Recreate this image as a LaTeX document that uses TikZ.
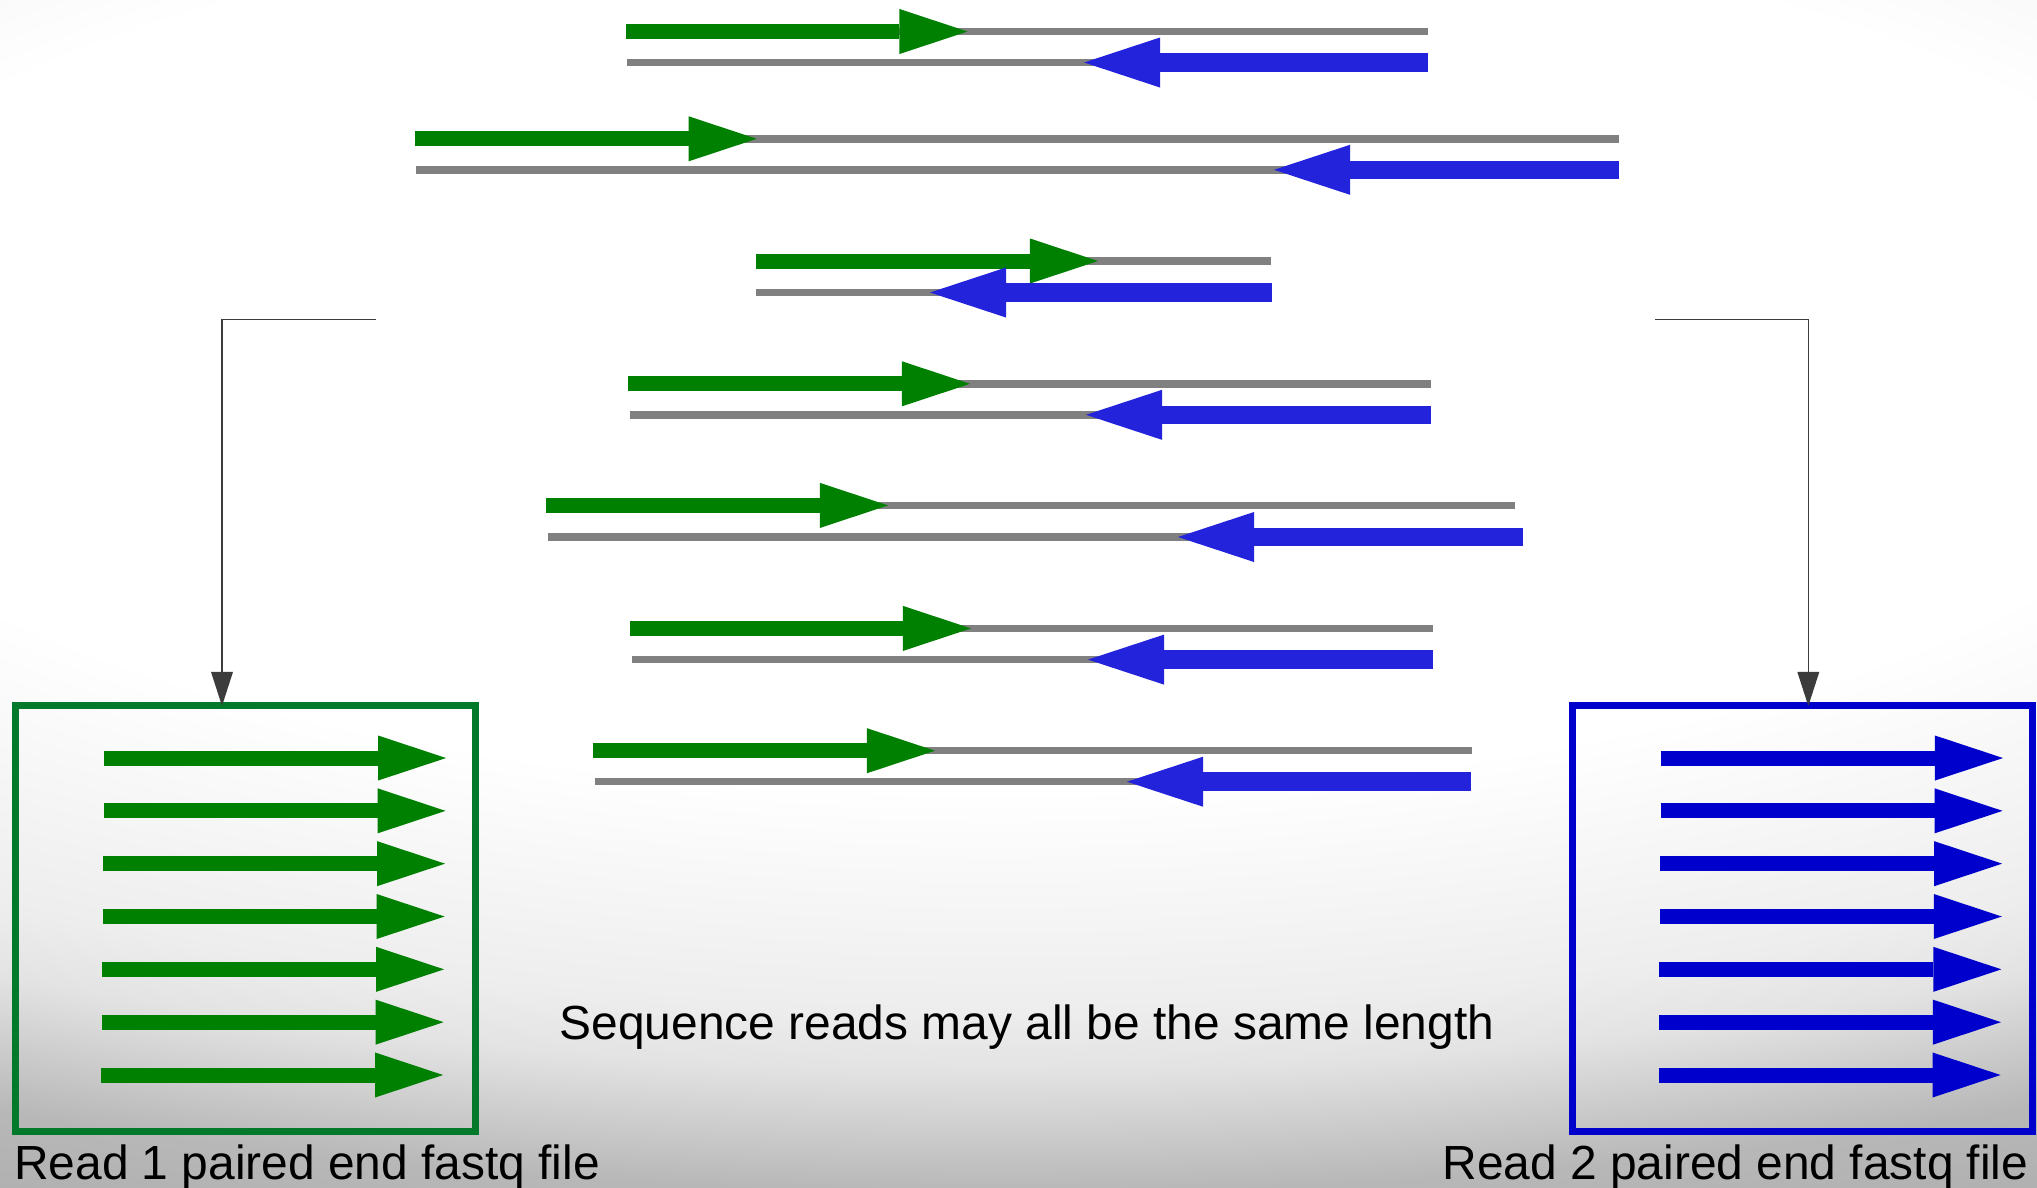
\documentclass[tikz,border=0pt]{standalone}
\usepackage{fontspec}
\setmainfont{Liberation Sans}
\usetikzlibrary{arrows.meta,positioning,calc}

\definecolor{readgreen}{HTML}{008000}
\definecolor{readblue}{HTML}{2323DC}
\definecolor{boxgreen}{HTML}{037A2B}
\definecolor{boxblue}{HTML}{0000CC}
\definecolor{strandgray}{HTML}{808080}
\definecolor{linkgray}{HTML}{3C3C3C}
\definecolor{glowA}{gray}{0.93}
\definecolor{glowB}{gray}{0.89}
\definecolor{glowC}{gray}{0.72}
\definecolor{glowD}{gray}{0.66}

\pgfdeclareradialshading{backglow}{\pgfpointorigin}{color(0bp)=(white); color(11bp)=(white); color(16.5bp)=(glowA); color(18bp)=(glowB); color(21bp)=(glowC); color(25bp)=(glowD); color(50bp)=(glowD)}

\tikzset{
  strand/.style={draw=strandgray, line width=0.075cm},
  fwdread/.style={draw=readgreen, line width=0.15cm, -{Triangle[length=0.68cm, width=0.45cm, line width=0pt 0 0]}},
  revread/.style={draw=readblue, line width=0.185cm, -{Triangle[length=0.76cm, width=0.50cm, line width=0pt 0 0]}},
  materead/.style={draw=boxblue, line width=0.15cm, -{Triangle[length=0.68cm, width=0.45cm, line width=0pt 0 0]}},
  fastqbox/.style={rectangle, line width=0.07cm, outer sep=0pt, minimum width=4.6cm, minimum height=4.255cm},
  feed/.style={draw=linkgray, line width=0.015cm, -{Triangle[length=0.34cm, width=0.22cm, line width=0pt 0 0]}},
  filelabel/.style={font=\fontsize{13.62pt}{16pt}\selectfont, inner sep=0pt},
}

\begin{document}
\begin{tikzpicture}[x=0.01cm, y=-0.01cm]

% page and background
\useasboundingbox (0,0) rectangle (2037,1187);
\fill[glowD] (0,0) rectangle (2037,1187);
\begin{scope}
  \clip (0,0) rectangle (2037,1187);
  \shade[shading=backglow] (1000,350) ellipse [x radius=28cm, y radius=10cm];
\end{scope}

% fastq files
\node[fastqbox, draw=boxgreen] (read1) at (245.2,918.8) {};
\node[fastqbox, draw=boxblue] (read2) at (1802.6,918.8) {};

\foreach \i in {0,...,6} {
  \draw[fwdread] ($(read1.west)+(89-0.5*\i,-160.8+52.83*\i)$) -- ++(342,0);
  \draw[materead] ($(read2.west)+(88.5-0.4*\i,-160.8+52.83*\i)$) -- ++(342,0);
}

% feeds into the files
\coordinate (r1from) at (375.7,319.7);
\coordinate (r1bend) at (222,319.7);
\coordinate (r2from) at (1655,319.7);
\coordinate (r2bend) at (1808.3,319.7);
\draw[feed] (r1from) -- (r1bend) -- (r1bend |- read1.north);
\draw[feed] (r2from) -- (r2bend) -- (r2bend |- read2.north);

% read pairs
\draw[strand] (626,31.5) -- (1428,31.5);
\draw[strand] (627,62.5) -- (1428,62.5);
\draw[fwdread] (626,31.5) -- (967.5,31.5);
\draw[revread] (1428,62.5) -- (1084,62.5);

\draw[strand] (414.7,138.8) -- (1619,138.8);
\draw[strand] (416,169.8) -- (1619,169.8);
\draw[fwdread] (414.7,138.8) -- (756.7,138.8);
\draw[revread] (1619,169.8) -- (1274,169.8);

\draw[strand] (756,261) -- (1271,261);
\draw[strand] (756,292.5) -- (1272,292.5);
\draw[fwdread] (756,261) -- (1098,261);
\draw[revread] (1272,292.5) -- (930,292.5);

\draw[strand] (628.3,383.8) -- (1431,383.8);
\draw[strand] (630,414.8) -- (1431,414.8);
\draw[fwdread] (628.3,383.8) -- (970,383.8);
\draw[revread] (1431,414.8) -- (1086,414.8);

\draw[strand] (546,505.4) -- (1515,505.4);
\draw[strand] (547.7,537) -- (1523,537);
\draw[fwdread] (546,505.4) -- (888,505.4);
\draw[revread] (1523,537) -- (1178,537);

\draw[strand] (630,628.4) -- (1433,628.4);
\draw[strand] (632,659.6) -- (1433,659.6);
\draw[fwdread] (630,628.4) -- (971,628.4);
\draw[revread] (1433,659.6) -- (1088,659.6);

\draw[strand] (593,750.7) -- (1471.8,750.7);
\draw[strand] (595,781.7) -- (1471,781.7);
\draw[fwdread] (593,750.7) -- (935,750.7);
\draw[revread] (1471,781.7) -- (1127,781.7);

% labels
\node[filelabel, anchor=base west] (read1label) at (13.5,1179) {Read 1 paired end fastq file};
\node[filelabel, anchor=base east] (read2label) at (2029,1179) {Read 2 paired end fastq file};
\node[filelabel, anchor=base west] (lengthnote) at (559,1039) {Sequence reads may all be the same length};

\end{tikzpicture}
\end{document}
